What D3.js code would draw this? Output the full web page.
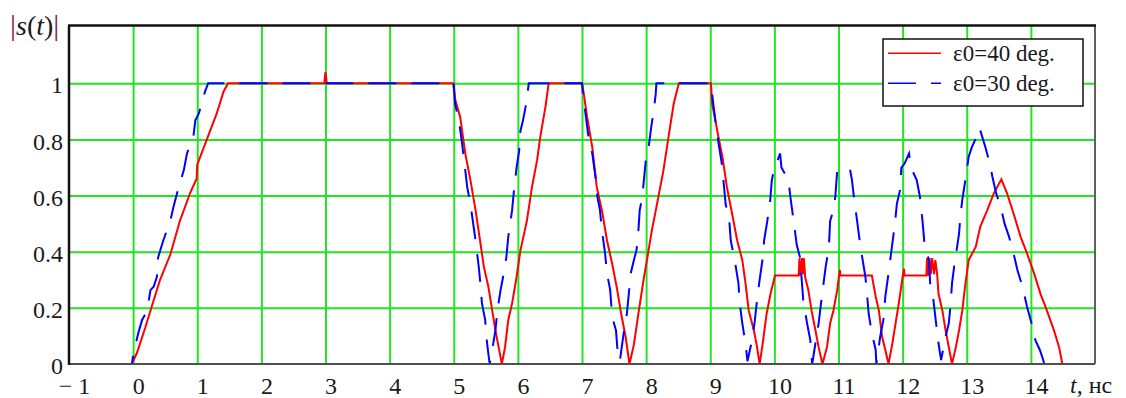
<!DOCTYPE html>
<html>
<head>
<meta charset="utf-8">
<script src="https://cdn.jsdelivr.net/npm/d3@7/dist/d3.min.js"></script>
<style>
  html, body { margin: 0; padding: 0; background: #fff; }
  svg { display: block; }
  svg text { font-family: 'Liberation Serif', 'Times New Roman', serif; }
</style>
</head>
<body>
<svg id="chart" width="1126" height="398"></svg>
<script>
// Time samples (ns) and envelope values |s(t)| for eps0 = 40 deg.
const tRed = [
  -1, -0.02, 0.06, 0.19, 0.27, 0.42, 0.58, 0.73, 0.89, 0.99, 1.0, 1.15, 1.30, 1.41, 1.48,
  2.98, 3.0, 3.02, 4.99, 5.02, 5.10, 5.18, 5.26, 5.34, 5.41, 5.47, 5.54, 5.60, 5.65, 5.70, 5.75,
  5.80, 5.85, 5.91, 5.98, 6.04, 6.14, 6.22, 6.30, 6.35, 6.43, 6.48,
  7.0, 7.02, 7.08, 7.16, 7.23, 7.31, 7.39, 7.47, 7.55, 7.61, 7.68, 7.74,
  7.81, 7.88, 7.96, 8.02, 8.09, 8.17, 8.27, 8.35, 8.43, 8.51,
  9.01, 9.03, 9.11, 9.19, 9.26, 9.34, 9.42, 9.50, 9.55, 9.60, 9.68, 9.73, 9.77,
  9.81, 9.88, 9.94, 10.01, 10.38, 10.39, 10.41, 10.43, 10.45, 10.46, 10.48,
  10.53, 10.58, 10.64, 10.69, 10.75, 10.82, 10.87, 10.92, 10.98, 11.02, 11.03, 11.52,
  11.58, 11.63, 11.68, 11.73, 11.78, 11.84, 11.89, 11.94, 12.0, 12.02, 12.03, 12.37,
  12.38, 12.40, 12.42, 12.44, 12.46, 12.49, 12.51, 12.54,
  12.56, 12.62, 12.67, 12.72, 12.77, 12.83, 12.88, 12.93, 12.98, 13.03, 13.14, 13.21,
  13.32, 13.42, 13.54, 13.63, 13.73, 13.84, 13.94, 14.05, 14.15, 14.25, 14.36, 14.44, 14.49, 15
];
const sRed = [
  0, 0, 0.04, 0.13, 0.19, 0.30, 0.39, 0.51, 0.61, 0.66, 0.71, 0.80, 0.89, 0.97, 1.0,
  1.0, 1.04, 1.0, 1.0, 0.945, 0.88, 0.75, 0.655, 0.548, 0.44, 0.346, 0.275, 0.19, 0.12, 0.06, 0,
  0.06, 0.157, 0.216, 0.31, 0.405, 0.51, 0.63, 0.726, 0.81, 0.916, 1.0,
  1.0, 0.975, 0.88, 0.773, 0.631, 0.548, 0.44, 0.358, 0.263, 0.18, 0.097, 0,
  0.07, 0.18, 0.30, 0.38, 0.477, 0.57, 0.69, 0.81, 0.927, 1.0,
  1.0, 0.927, 0.83, 0.738, 0.63, 0.536, 0.44, 0.37, 0.287, 0.19, 0.12, 0.06, 0,
  0.06, 0.18, 0.25, 0.315, 0.315, 0.377, 0.315, 0.377, 0.32, 0.377, 0.31,
  0.263, 0.19, 0.12, 0.06, 0, 0.06, 0.145, 0.19, 0.263, 0.335, 0.315, 0.315,
  0.24, 0.19, 0.097, 0.05, 0, 0.073, 0.145, 0.216, 0.31, 0.34, 0.315, 0.315,
  0.377, 0.315, 0.377, 0.32, 0.377, 0.32, 0.37, 0.315,
  0.25, 0.19, 0.12, 0.06, 0, 0.06, 0.12, 0.19, 0.287, 0.37, 0.417, 0.489,
  0.548, 0.607, 0.658, 0.607, 0.536, 0.453, 0.394, 0.323, 0.25, 0.19, 0.12, 0.06, 0, 0
];

// Time samples (ns) and envelope values |s(t)| for eps0 = 30 deg.
const tBlue = [
  -1, -0.02, 0.0, 0.08, 0.14, 0.22, 0.27, 0.32, 0.37, 0.39, 0.47, 0.58, 0.63, 0.71, 0.79, 0.84,
  0.94, 0.97, 1.02, 1.07, 1.12, 1.17,
  5.0, 5.02, 5.08, 5.13, 5.18, 5.21, 5.26, 5.31, 5.34, 5.39, 5.41, 5.44, 5.49, 5.52, 5.56,
  5.60, 5.65, 5.68, 5.73, 5.78, 5.82, 5.85, 5.91, 5.94, 5.98, 6.02, 6.04, 6.08, 6.13, 6.17,
  7.0, 7.02, 7.05, 7.10, 7.16, 7.21, 7.24, 7.28, 7.31, 7.36, 7.39, 7.44, 7.47, 7.53, 7.55, 7.59,
  7.62, 7.65, 7.70, 7.73, 7.76, 7.82, 7.85, 7.88, 7.90, 7.94, 7.97, 8.0, 8.04, 8.08, 8.12, 8.15, 8.16,
  9.01, 9.04, 9.08, 9.13, 9.18, 9.21, 9.24, 9.30, 9.32, 9.39, 9.44, 9.46, 9.50, 9.55, 9.58,
  9.64, 9.69, 9.73, 9.77, 9.82, 9.84, 9.89, 9.93, 9.96, 10.0, 10.05, 10.09,
  10.11, 10.22, 10.25, 10.30, 10.35, 10.40, 10.45, 10.51, 10.56, 10.59,
  10.64, 10.69, 10.74, 10.80, 10.85, 10.87, 10.92, 10.95, 10.98, 11.03, 11.18,
  11.21, 11.24, 11.29, 11.33, 11.37, 11.42, 11.44, 11.47, 11.52, 11.58, 11.59,
  11.65, 11.70, 11.73, 11.78, 11.84, 11.88, 11.91, 11.96, 11.98, 12.03, 12.10,
  12.13, 12.22, 12.27, 12.31, 12.34, 12.41, 12.43, 12.48, 12.51, 12.56, 12.60,
  12.67, 12.72, 12.75, 12.77, 12.81, 12.85, 12.88, 12.90, 12.93, 12.97, 13.0, 13.03, 13.08, 13.14, 13.20,
  13.24, 13.29, 13.36, 13.40, 13.46, 13.53, 13.59, 13.66, 13.73, 13.79, 13.87, 13.94, 14.01, 14.07,
  14.14, 14.19, 14.21, 15
];
const sBlue = [
  0, 0, 0.03, 0.11, 0.157, 0.19, 0.263, 0.275, 0.31, 0.38, 0.44, 0.51, 0.56, 0.63, 0.69, 0.75,
  0.81, 0.868, 0.89, 0.927, 0.97, 1.0,
  1.0, 0.927, 0.868, 0.785, 0.69, 0.63, 0.57, 0.489, 0.44, 0.346, 0.30, 0.216, 0.157, 0.073, 0,
  0.05, 0.12, 0.19, 0.263, 0.323, 0.38, 0.453, 0.548, 0.62, 0.70, 0.76, 0.83, 0.868, 0.927, 1.0,
  1.0, 0.95, 0.90, 0.81, 0.75, 0.667, 0.595, 0.548, 0.477, 0.394, 0.323, 0.263, 0.168, 0.12, 0.06, 0.01,
  0.06, 0.11, 0.18, 0.25, 0.323, 0.38, 0.405, 0.477, 0.548, 0.595, 0.667, 0.738, 0.773, 0.845, 0.904, 0.963, 1.0,
  1.0, 0.94, 0.868, 0.785, 0.714, 0.643, 0.57, 0.50, 0.44, 0.358, 0.287, 0.216, 0.145, 0.073, 0.01,
  0.073, 0.145, 0.228, 0.30, 0.38, 0.44, 0.51, 0.57, 0.655, 0.70, 0.726, 0.75,
  0.70, 0.655, 0.595, 0.51, 0.423, 0.38, 0.228, 0.145, 0.085, 0,
  0.073, 0.145, 0.24, 0.346, 0.417, 0.51, 0.548, 0.595, 0.69, 0.693, 0.693,
  0.655, 0.595, 0.51, 0.44, 0.38, 0.31, 0.263, 0.18, 0.11, 0.05, 0,
  0.097, 0.157, 0.24, 0.323, 0.43, 0.50, 0.57, 0.62, 0.70, 0.714, 0.75,
  0.70, 0.655, 0.595, 0.51, 0.43, 0.37, 0.287, 0.228, 0.168, 0.073, 0.014,
  0.097, 0.145, 0.216, 0.287, 0.358, 0.417, 0.465, 0.524, 0.584, 0.643, 0.69, 0.738, 0.773, 0.803, 0.842,
  0.81, 0.773, 0.714, 0.667, 0.607, 0.56, 0.50, 0.453, 0.394, 0.335, 0.275, 0.204, 0.145, 0.085,
  0.05, 0.016, 0, 0
];

// Axis ticks and labels
const xTicks = [-1, 0, 1, 2, 3, 4, 5, 6, 7, 8, 9, 10, 11, 12, 13, 14];
const xGrid = [0, 1, 2, 3, 4, 5, 6, 7, 8, 9, 10, 11, 12, 13, 14];
const yTicks = [0, 0.2, 0.4, 0.6, 0.8, 1];
const yGrid = [0.2, 0.4, 0.6, 0.8, 1];

// Legend entries
const seriesNames = ["ε0=40 deg.", "ε0=30 deg."];
const seriesColors = ["#ff0000", "#0000ff"];

const svg = d3.select("#chart");
const plotLeft = 69, plotRight = 1095, plotBottom = 364, plotTop = 25.5;

const x = d3.scaleLinear().domain([-1, 15]).range([plotLeft, plotRight]);
const y = d3.scaleLinear().domain([0, 1]).range([plotBottom, 83.3]);
const plotH = plotBottom - plotTop, plotW = plotRight - plotLeft;

const gridColor = "#22e622";
const serif = "'Liberation Serif', 'Times New Roman', serif";
const ink = "#1a1a1a";

// vertical grid lines
svg.append("g")
  .attr("transform", `translate(0,${plotBottom})`)
  .call(d3.axisBottom(x).tickValues(xGrid).tickSize(-plotH).tickFormat(""))
  .call(g => g.select(".domain").remove())
  .call(g => g.selectAll("line").attr("stroke", gridColor).attr("stroke-width", 2));

// horizontal grid lines
svg.append("g")
  .attr("transform", `translate(${plotLeft},0)`)
  .call(d3.axisLeft(y).tickValues(yGrid).tickSize(-plotW).tickFormat(""))
  .call(g => g.select(".domain").remove())
  .call(g => g.selectAll("line").attr("stroke", gridColor).attr("stroke-width", 2));

// x tick labels
svg.append("g")
  .attr("transform", `translate(0,${plotBottom})`)
  .call(d3.axisBottom(x).tickValues(xTicks).tickSize(0).tickPadding(13)
    .tickFormat(d => d < 0 ? "\u2212 " + Math.abs(d) : String(d)))
  .call(g => g.select(".domain").remove())
  .call(g => g.attr("font-family", null).attr("font-size", null))
  .call(g => g.selectAll("text")
    .style("font-family", serif)
    .style("font-size", "24px").attr("fill", ink).attr("dx", 5));

// y tick labels
svg.append("g")
  .attr("transform", `translate(${plotLeft},0)`)
  .call(d3.axisLeft(y).tickValues(yTicks).tickSize(0).tickPadding(6)
    .tickFormat(d => String(d)))
  .call(g => g.select(".domain").remove())
  .call(g => g.attr("font-family", null).attr("font-size", null))
  .call(g => g.selectAll("text")
    .style("font-family", serif)
    .style("font-size", "24px").attr("fill", ink).attr("dy", "0.4em"));

// curves
const line = d3.line().x(d => x(d[0])).y(d => y(d[1])).curve(d3.curveLinear);
const redData = tRed.map((t, i) => [t, sRed[i]]);
const blueData = tBlue.map((t, i) => [t, sBlue[i]]);

svg.append("path").datum(redData)
  .attr("d", line).attr("fill", "none")
  .attr("stroke", seriesColors[0]).attr("stroke-width", 2)
  .attr("stroke-linejoin", "miter");

svg.append("path").datum(blueData)
  .attr("d", line).attr("fill", "none")
  .attr("stroke", seriesColors[1]).attr("stroke-width", 2)
  .attr("stroke-dasharray", "28,15");

// plot frame
svg.append("line").attr("x1", plotLeft).attr("x2", plotRight).attr("y1", plotBottom).attr("y2", plotBottom)
  .attr("stroke", "#505050").attr("stroke-width", 2);
svg.append("line").attr("x1", plotRight).attr("x2", plotRight).attr("y1", plotTop).attr("y2", plotBottom)
  .attr("stroke", "#606060").attr("stroke-width", 2);
svg.append("line").attr("x1", plotLeft - 1).attr("x2", plotRight + 1).attr("y1", plotTop).attr("y2", plotTop)
  .attr("stroke", "#111").attr("stroke-width", 2.5);
svg.append("line").attr("x1", plotLeft).attr("x2", plotLeft).attr("y1", plotTop).attr("y2", plotBottom + 1)
  .attr("stroke", "#111").attr("stroke-width", 2.5);

// axis titles
const yTitle = svg.append("text").attr("x", 10).attr("y", 35)
  .style("font-family", serif).style("font-size", "28px");
yTitle.append("tspan").attr("fill", "#8a2048").style("font-size", "30px").text("|");
yTitle.append("tspan").style("font-style", "italic").attr("fill", ink).text("s");
yTitle.append("tspan").attr("fill", ink).text("(");
yTitle.append("tspan").style("font-style", "italic").attr("fill", ink).text("t");
yTitle.append("tspan").attr("fill", ink).text(")");
yTitle.append("tspan").attr("fill", "#8a2048").style("font-size", "30px").text("|");

const xTitle = svg.append("text").attr("x", 1070).attr("y", 393)
  .style("font-family", serif).style("font-size", "24px").attr("fill", ink);
xTitle.append("tspan").style("font-style", "italic").text("t");
xTitle.append("tspan").text(", нс");

// legend
const lg = svg.append("g");
lg.append("rect").attr("x", 883).attr("y", 39).attr("width", 200).attr("height", 67)
  .attr("fill", "#fff").attr("stroke", "#111").attr("stroke-width", 1.5);
const lgY = [53.3, 83.3];
seriesNames.forEach((name, i) => {
  lg.append("line").attr("x1", 888).attr("x2", 941).attr("y1", lgY[i]).attr("y2", lgY[i])
    .attr("stroke", seriesColors[i]).attr("stroke-width", 1.5)
    .attr("stroke-dasharray", i === 1 ? "28,15" : null);
  lg.append("text").attr("x", 953).attr("y", lgY[i] + 8)
    .style("font-family", serif).style("font-size", "23px")
    .attr("fill", ink).text(name);
});
</script>
</body>
</html>
